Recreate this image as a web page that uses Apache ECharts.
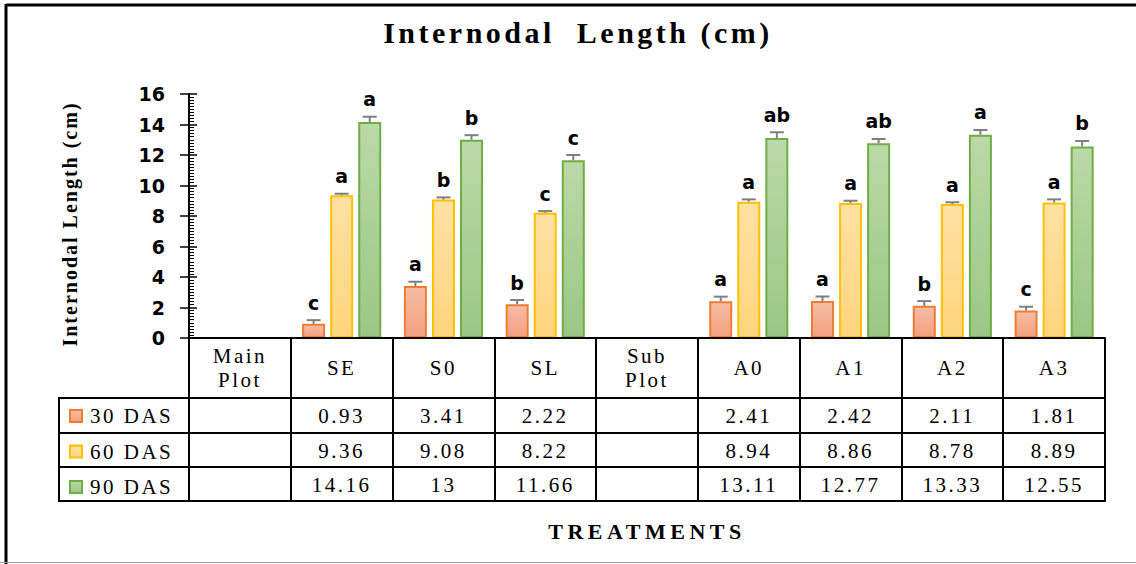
<!DOCTYPE html>
<html>
<head>
<meta charset="utf-8">
<script src="https://cdn.jsdelivr.net/npm/echarts@6/dist/echarts.min.js"></script>
<style>
  html, body { margin: 0; padding: 0; background: #fff; }
  #chart { width: 1136px; height: 564px; }
  #chart text { white-space: pre; }
  /* loose serif spacing for the headings and the data table */
  #chart text[style*="Tinos"] { letter-spacing: 3.5px; }
  #chart text[style*="Times New Roman"] { letter-spacing: 2.5px; }
  #chart text[style*="FreeSerif"] { letter-spacing: 2px; }
  #chart text[style*="Nimbus Roman"] { letter-spacing: 4.5px; }
</style>
</head>
<body>
<div id="chart"></div>
<script>
// ---- data ----
const categories = ['Main\nPlot', 'SE', 'S0', 'SL', 'Sub\nPlot', 'A0', 'A1', 'A2', 'A3'];
const seriesNames = ['30 DAS', '60 DAS', '90 DAS'];
const das30 = [null, 0.93, 3.41, 2.22, null, 2.41, 2.42, 2.11, 1.81];
const das60 = [null, 9.36, 9.08, 8.22, null, 8.94, 8.86, 8.78, 8.89];
const das90 = [null, 14.16, 13, 11.66, null, 13.11, 12.77, 13.33, 12.55];
const err30 = [null, 0.24, 0.28, 0.27, null, 0.30, 0.30, 0.31, 0.24];
const err60 = [null, 0.10, 0.14, 0.10, null, 0.15, 0.14, 0.12, 0.20];
const err90 = [null, 0.35, 0.30, 0.34, null, 0.38, 0.28, 0.31, 0.37];
const letters30 = ['', 'c', 'a', 'b', '', 'a', 'a', 'b', 'c'];
const letters60 = ['', 'a', 'b', 'c', '', 'a', 'a', 'a', 'a'];
const letters90 = ['', 'a', 'b', 'c', '', 'ab', 'ab', 'a', 'b'];
const yMin = 0, yMax = 16, yStep = 2;

// ---- layout & style ----
const W = 1136, H = 564;
const GRID = { left: 189, right: 31, top: 94, bottom: 226 };
const AXIS_Y = H - GRID.bottom;            // x-axis line / top of table
const ROW_OFFSETS = [60, 95, 129, 163];     // table horizontal rules below the axis
const TABLE_LEFT = 59;
const BAR_W = 23, BAR_GAP = 0.22;
const BAR_STEP = BAR_W * (1 + BAR_GAP);
const CAP = 7;

const TITLE_FONT = '"Liberation Serif", Tinos, serif';
const TABLE_FONT = '"Liberation Serif", "Times New Roman", serif';
const YNAME_FONT = '"Liberation Serif", FreeSerif, serif';
const XNAME_FONT = '"Liberation Serif", "Nimbus Roman", serif';
const SANS = '"DejaVu Sans", Verdana, sans-serif';

const palette = [
  { top: '#f6bda5', bottom: '#f3a080', border: '#ed7d31' },
  { top: '#ffe1a3', bottom: '#ffd47c', border: '#ffc000' },
  { top: '#bad9a7', bottom: '#9bc784', border: '#70ad47' }
];
const values = [das30, das60, das90];
const errors = [err30, err60, err90];
const letters = [letters30, letters60, letters90];

function grad(c) {
  return new echarts.graphic.LinearGradient(0, 0, 0, 1, [
    { offset: 0, color: c.top }, { offset: 1, color: c.bottom }
  ]);
}

const barSeries = values.map((vals, k) => ({
  name: seriesNames[k],
  type: 'bar',
  xAxisIndex: 0,
  yAxisIndex: 0,
  barWidth: BAR_W,
  barGap: (BAR_GAP * 100) + '%',
  data: vals.map(v => (v == null ? '-' : v)),
  itemStyle: { color: grad(palette[k]), borderColor: palette[k].border, borderWidth: 2 },
  emphasis: { disabled: true },
  z: 2
}));

// error bar (upper arm) with the significance letter above it
const errSeries = values.map((vals, k) => ({
  type: 'custom',
  xAxisIndex: 0,
  yAxisIndex: 0,
  z: 4,
  silent: true,
  data: vals.map((v, i) => [i, v, errors[k][i]]).filter(d => d[1] != null),
  renderItem(params, api) {
    const i = api.value(0), v = api.value(1), e = api.value(2);
    const base = api.coord([i, v]);
    const top = api.coord([i, v + e]);
    const x = base[0] + (k - 1) * BAR_STEP;
    return {
      type: 'group',
      children: [
        { type: 'line', shape: { x1: x, y1: base[1], x2: x, y2: top[1] }, style: { stroke: '#7f7f7f', lineWidth: 2 } },
        { type: 'line', shape: { x1: x - CAP, y1: top[1], x2: x + CAP, y2: top[1] }, style: { stroke: '#7f7f7f', lineWidth: 2 } },
        { type: 'text', x: x, y: top[1] - 8,
          style: { text: letters[k][i], textAlign: 'center', textVerticalAlign: 'bottom',
                   font: 'bold 19px ' + SANS, fill: '#000' } }
      ]
    };
  }
}));

// table rows are drawn as extra category axes stacked under the plot
function rowAxis(offset, rowVals, extra) {
  return Object.assign({
    type: 'category',
    data: categories,
    position: 'bottom',
    offset: offset,
    gridIndex: 0,
    z: 5,
    axisLine: { show: true, onZero: false, lineStyle: { color: '#000', width: 2 } },
    axisTick: { show: false },
    splitLine: { show: false },
    axisLabel: rowVals ? {
      show: true, interval: 0, margin: 17.5, verticalAlign: 'middle',
      fontFamily: TABLE_FONT, fontSize: 21, color: '#000',
      formatter: (val, idx) => (rowVals[idx] == null ? '' : String(rowVals[idx]))
    } : { show: false }
  }, extra || {});
}

const xAxes = [
  {
    type: 'category',
    data: categories,
    position: 'bottom',
    z: 5,
    axisLine: { show: true, onZero: false, lineStyle: { color: '#000', width: 2 } },
    axisTick: { show: true, interval: 0, length: ROW_OFFSETS[3], lineStyle: { color: '#000', width: 2 } },
    axisLabel: { show: true, interval: 0, margin: 30, verticalAlign: 'middle', lineHeight: 24,
                 fontFamily: TABLE_FONT, fontSize: 21, color: '#000' },
    splitLine: { show: false }
  },
  rowAxis(ROW_OFFSETS[0], das30),
  rowAxis(ROW_OFFSETS[1], das60),
  rowAxis(ROW_OFFSETS[2], das90),
  rowAxis(ROW_OFFSETS[3], null, {
    name: 'TREATMENTS', nameLocation: 'middle', nameGap: 19,
    nameTextStyle: { fontFamily: XNAME_FONT, fontWeight: 'bold', fontSize: 22, color: '#000' }
  })
];

const yAxes = [
  {
    type: 'value', min: yMin, max: yMax, interval: yStep, position: 'left',
    name: 'Internodal Length (cm)', nameLocation: 'middle', nameRotate: 90, nameGap: 109,
    nameTextStyle: { fontFamily: YNAME_FONT, fontWeight: 'bold', fontSize: 20, color: '#000', padding: [0, 16, 0, 0] },
    axisLine: { show: true, lineStyle: { color: '#000', width: 2 } },
    axisTick: { show: true, inside: false, length: 9, lineStyle: { color: '#000', width: 1.5 } },
    axisLabel: { margin: 24, fontFamily: SANS, fontWeight: 'bold', fontSize: 19, color: '#000' },
    splitLine: { show: false },
    z: 5
  },
  {
    type: 'value', min: yMin, max: yMax, interval: yStep, position: 'left',
    axisLine: { show: false },
    axisTick: { show: true, inside: true, length: 8, lineStyle: { color: '#000', width: 1.5 } },
    minorTick: { show: true, splitNumber: 10, length: 5, lineStyle: { color: '#000', width: 1 } },
    axisLabel: { show: false },
    splitLine: { show: false },
    z: 5
  }
];

// row label column on the left of the table, plus the outer frame
const rowLines = ROW_OFFSETS.map(o => ({
  type: 'line', z: 10,
  shape: { x1: TABLE_LEFT, y1: AXIS_Y + o, x2: GRID.left, y2: AXIS_Y + o },
  style: { stroke: '#000', lineWidth: 2 }
}));
const graphics = rowLines.concat([
  { type: 'line', z: 10, shape: { x1: TABLE_LEFT, y1: AXIS_Y + ROW_OFFSETS[0] - 1, x2: TABLE_LEFT, y2: AXIS_Y + ROW_OFFSETS[3] + 1 },
    style: { stroke: '#000', lineWidth: 2 } },
  { type: 'line', z: 10, shape: { x1: 6, y1: 5, x2: W, y2: 5 }, style: { stroke: '#000', lineWidth: 3 } },
  { type: 'line', z: 10, shape: { x1: 6, y1: 4, x2: 6, y2: H }, style: { stroke: '#000', lineWidth: 3 } },
  { type: 'line', z: 10, shape: { x1: 0, y1: H - 1.5, x2: W, y2: H - 1.5 }, style: { stroke: '#9a9a9a', lineWidth: 1 } }
]);

const chart = echarts.init(document.getElementById('chart'), null, { renderer: 'svg', width: W, height: H });
chart.setOption({
  animation: false,
  backgroundColor: '#fff',
  title: {
    text: 'Internodal  Length (cm)',
    left: 573, top: 12, textAlign: 'center',
    textStyle: { fontFamily: TITLE_FONT, fontWeight: 'bold', fontSize: 30, color: '#000' }
  },
  legend: {
    data: seriesNames,
    orient: 'vertical',
    left: 64, top: 400.5,
    itemWidth: 12, itemHeight: 12, itemGap: 14.5,
    icon: 'rect',
    selectedMode: false,
    textStyle: { fontFamily: TABLE_FONT, fontSize: 21, color: '#000', lineHeight: 20, padding: [0, 0, 0, 3] }
  },
  grid: { left: GRID.left, right: GRID.right, top: GRID.top, bottom: GRID.bottom, containLabel: false },
  xAxis: xAxes,
  yAxis: yAxes,
  graphic: graphics,
  series: barSeries.concat(errSeries)
});
</script>
</body>
</html>
